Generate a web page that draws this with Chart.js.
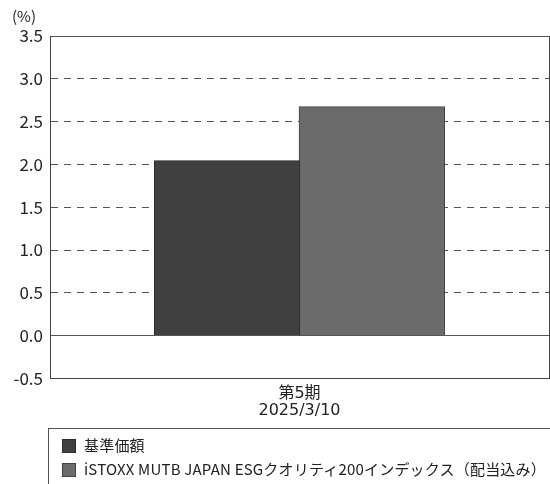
<!DOCTYPE html>
<html><head><meta charset="utf-8">
<script src="https://cdn.jsdelivr.net/npm/chart.js@4/dist/chart.umd.min.js"></script>
<style>
html,body{margin:0;padding:0;background:#fff;}
#wrap{position:relative;width:550px;height:484px;}
#c{position:absolute;left:0;top:0;}
#unit{position:absolute;left:12px;top:6px;font-family:'Noto Sans CJK JP';font-size:15px;line-height:20px;color:#222;}
#legend{position:absolute;left:48px;top:428px;width:510px;height:70px;border:1px solid #555;box-sizing:border-box;font-family:'Noto Sans CJK JP';font-size:15px;letter-spacing:0.2px;color:#222;}
.li{position:absolute;left:13px;height:20px;line-height:20px;white-space:nowrap;}
.sw{display:inline-block;width:14px;height:14px;vertical-align:-2px;margin-right:8px;box-sizing:border-box;}
</style></head>
<body><div id="wrap"><canvas id="c" width="550" height="484"></canvas><div id="unit">(%)</div><div id="legend"></div></div>
<script>
const categories = [["第5期","2025/3/10"]];
const seriesNames = ["基準価額","iSTOXX MUTB JAPAN ESGクオリティ200インデックス（配当込み）"];
const fundValues = [2.04];
const indexValues = [2.67];
const yTicks = [-0.5,0.0,0.5,1.0,1.5,2.0,2.5,3.0,3.5];
const fills = ["#404040","#6b6b6b"];
const borders = ["#2b2b2b","#444444"];

const lg = document.getElementById('legend');
seriesNames.forEach((n,i)=>{
  const d=document.createElement('div');d.className='li';d.style.top=(6+i*24)+'px';
  d.innerHTML='<span class="sw" style="background:'+fills[i]+';border:1px solid '+borders[i]+'"></span>'+n;
  lg.appendChild(d);
});

new Chart(document.getElementById('c'),{
  type:'bar',
  data:{labels:categories,datasets:[
    {label:seriesNames[0],data:fundValues,backgroundColor:fills[0],borderColor:borders[0],borderWidth:1,inflateAmount:0.8},
    {label:seriesNames[1],data:indexValues,backgroundColor:fills[1],borderColor:borders[1],borderWidth:1,inflateAmount:0.8}
  ]},
  options:{
    responsive:false,animation:false,devicePixelRatio:1,
    layout:{padding:{top:36,right:1,bottom:58,left:0}},
    plugins:{legend:{display:false},tooltip:{enabled:false}},
    datasets:{bar:{categoryPercentage:0.58,barPercentage:1}},
    scales:{
      x:{grid:{display:true,color:'#444',drawTicks:false,lineWidth:1},
         border:{display:true,color:'#444'},
         ticks:{color:'#222',font:{family:'"DejaVu Sans", "Noto Sans CJK JP"',size:16,lineHeight:1.05},padding:7,maxRotation:0}},
      y:{min:-0.5,max:3.5,
         afterBuildTicks:(s)=>{s.ticks=yTicks.map(v=>({value:v}));},
         afterFit:(s)=>{s.width=50;},
         grid:{color:'#555',drawTicks:false,lineWidth:1},
         border:{display:true,color:'#444',dash:(c)=>(c.tick&&c.tick.value!==0&&c.tick.value!==3.5&&c.tick.value!==-0.5)?[7,6]:[]},
         ticks:{color:'#222',font:{family:'Noto Sans CJK JP',size:17},padding:7,callback:(v)=>Number(v).toFixed(1)}}
    }
  }
});
</script></body></html>
